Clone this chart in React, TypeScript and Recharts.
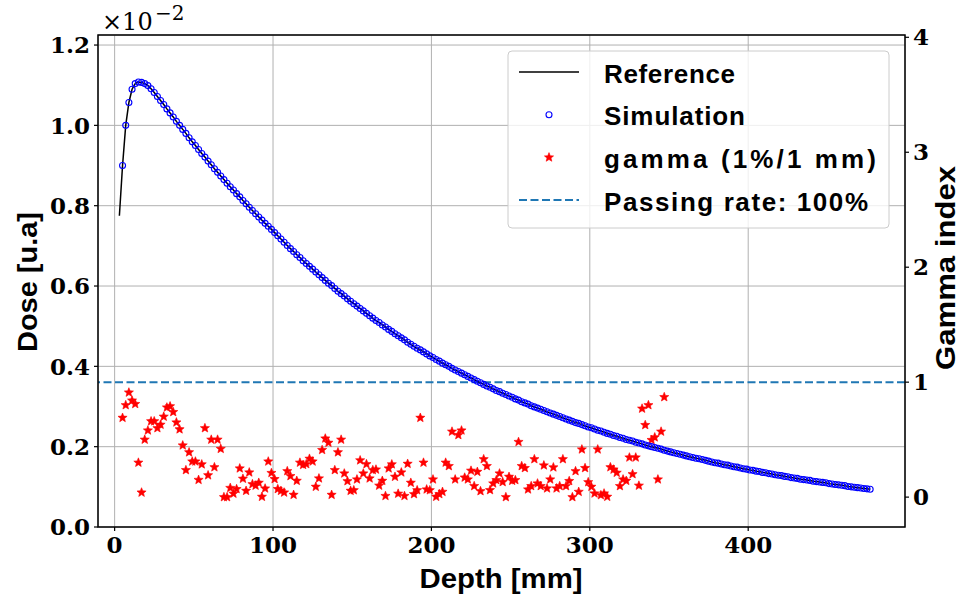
import { ComposedChart, Line, Scatter, XAxis, YAxis, CartesianGrid, ReferenceLine } from 'recharts'

// depth grid of the measured profile (mm)
const depthMm = [
  3, 5, 7, 9, 11, 13, 15, 17, 19, 21, 23, 25, 27, 29, 31, 33, 35, 37, 39, 41,
  43, 45, 47, 49, 51, 53, 55, 57, 59, 61, 63, 65, 67, 69, 71, 73, 75, 77, 79, 81,
  83, 85, 87, 89, 91, 93, 95, 97, 99, 101, 103, 105, 107, 109, 111, 113, 115, 117, 119, 121,
  123, 125, 127, 129, 131, 133, 135, 137, 139, 141, 143, 145, 147, 149, 151, 153, 155, 157, 159, 161,
  163, 165, 167, 169, 171, 173, 175, 177, 179, 181, 183, 185, 187, 189, 191, 193, 195, 197, 199, 201,
  203, 205, 207, 209, 211, 213, 215, 217, 219, 221, 223, 225, 227, 229, 231, 233, 235, 237, 239, 241,
  243, 245, 247, 249, 251, 253, 255, 257, 259, 261, 263, 265, 267, 269, 271, 273, 275, 277, 279, 281,
  283, 285, 287, 289, 291, 293, 295, 297, 299, 301, 303, 305, 307, 309, 311, 313, 315, 317, 319, 321,
  323, 325, 327, 329, 331, 333, 335, 337, 339, 341, 343, 345, 347, 349, 351, 353, 355, 357, 359, 361,
  363, 365, 367, 369, 371, 373, 375, 377, 379, 381, 383, 385, 387, 389, 391, 393, 395, 397, 399, 401,
  403, 405, 407, 409, 411, 413, 415, 417, 419, 421, 423, 425, 427, 429, 431, 433, 435, 437, 439, 441,
  443, 445, 447, 449, 451, 453, 455, 457, 459, 461, 463, 465, 467, 469, 471, 473, 475, 477,
]

// dose in units of 1e-2
const referenceDose = [
  0.775, 0.900, 1.000, 1.057, 1.090, 1.104, 1.108, 1.107, 1.104, 1.099, 1.091, 1.082, 1.072, 1.062, 1.052, 1.041, 1.031, 1.021, 1.010, 1.000,
  0.990, 0.980, 0.969, 0.959, 0.950, 0.940, 0.930, 0.921, 0.911, 0.902, 0.892, 0.883, 0.874, 0.865, 0.856, 0.847, 0.839, 0.830, 0.822, 0.813,
  0.805, 0.796, 0.788, 0.780, 0.772, 0.764, 0.756, 0.749, 0.741, 0.733, 0.725, 0.717, 0.709, 0.701, 0.693, 0.686, 0.678, 0.671, 0.663, 0.656,
  0.649, 0.642, 0.635, 0.628, 0.621, 0.614, 0.607, 0.601, 0.594, 0.587, 0.581, 0.575, 0.568, 0.562, 0.556, 0.550, 0.544, 0.538, 0.532, 0.526,
  0.520, 0.514, 0.509, 0.503, 0.498, 0.492, 0.487, 0.481, 0.476, 0.471, 0.466, 0.460, 0.455, 0.450, 0.445, 0.441, 0.436, 0.431, 0.426, 0.422,
  0.417, 0.413, 0.408, 0.404, 0.400, 0.395, 0.391, 0.387, 0.383, 0.379, 0.375, 0.371, 0.367, 0.363, 0.359, 0.355, 0.351, 0.348, 0.344, 0.340,
  0.337, 0.333, 0.330, 0.326, 0.323, 0.319, 0.316, 0.312, 0.309, 0.306, 0.302, 0.299, 0.296, 0.293, 0.290, 0.287, 0.284, 0.281, 0.278, 0.275,
  0.272, 0.269, 0.266, 0.263, 0.260, 0.258, 0.255, 0.252, 0.249, 0.247, 0.244, 0.241, 0.239, 0.236, 0.233, 0.231, 0.228, 0.226, 0.223, 0.221,
  0.218, 0.216, 0.214, 0.211, 0.209, 0.207, 0.204, 0.202, 0.200, 0.198, 0.196, 0.194, 0.191, 0.189, 0.187, 0.185, 0.183, 0.181, 0.179, 0.177,
  0.175, 0.173, 0.171, 0.170, 0.168, 0.166, 0.164, 0.162, 0.160, 0.159, 0.157, 0.155, 0.154, 0.152, 0.150, 0.149, 0.147, 0.145, 0.144, 0.142,
  0.141, 0.139, 0.138, 0.136, 0.135, 0.133, 0.132, 0.130, 0.129, 0.128, 0.126, 0.125, 0.123, 0.122, 0.121, 0.119, 0.118, 0.117, 0.116, 0.114,
  0.113, 0.112, 0.111, 0.110, 0.108, 0.107, 0.106, 0.105, 0.104, 0.103, 0.101, 0.100, 0.099, 0.098, 0.097, 0.096, 0.095, 0.094,
]

// gamma index (1%/1 mm), depths 5..347 mm
const gammaIndex = [
  0.69, 0.80, 0.91, 0.84, 0.81, 0.30, 0.04, 0.50, 0.58, 0.66, 0.66, 0.60, 0.63, 0.70, 0.78, 0.79, 0.74, 0.65, 0.59, 0.45,
  0.235, 0.39, 0.31, 0.31, 0.15, 0.285, 0.60, 0.19, 0.50, 0.26, 0.50, 0.42, 0.00, 0.00, 0.08, 0.03, 0.07, 0.25, 0.16, 0.055,
  0.215, 0.113, 0.10, 0.125, 0.003, 0.075, 0.31, 0.21, 0.157, 0.07, 0.055, 0.04, 0.226, 0.183, 0.02, 0.142, 0.30, 0.28, 0.287, 0.334,
  0.31, 0.09, 0.163, 0.41, 0.51, 0.473, 0.02, 0.235, 0.39, 0.50, 0.206, 0.139, 0.055, 0.06, 0.154, 0.32, 0.206, 0.287, 0.163, 0.235,
  0.24, 0.10, 0.142, 0.01, 0.25, 0.285, 0.177, 0.03, 0.215, 0.01, 0.29, 0.125, 0.026, 0.06, 0.69, 0.30, 0.067, 0.06, 0.154, 0.003,
  0.026, 0.046, 0.30, 0.27, 0.57, 0.154, 0.54, 0.58, 0.17, 0.154, 0.23, 0.096, 0.22, 0.052, 0.33, 0.27, 0.061, 0.119, 0.148, 0.206,
  0.131, 0.00, 0.177, 0.142, 0.148, 0.48, 0.27, 0.253, 0.067, 0.096, 0.33, 0.119, 0.096, 0.276, 0.076, 0.154, 0.259, 0.076, 0.096, 0.33,
  0.096, 0.14, 0.00, 0.226, 0.046, 0.415, 0.253, 0.13, 0.09, 0.032, 0.415, 0.017, 0.032, 0.003, 0.26, 0.24, 0.212, 0.096, 0.154, 0.142,
  0.345, 0.20, 0.345, 0.10, 0.77, 0.627, 0.80, 0.497, 0.52, 0.154, 0.57, 0.87,
]

const depthTicks = [0, 100, 200, 300, 400]
const doseTicks = [0, 0.2, 0.4, 0.6, 0.8, 1.0, 1.2]
const gammaTicks = [0, 1, 2, 3, 4]
const passingLevel = 1
const legendLabels = ['Reference', 'Simulation', 'gamma (1%/1 mm)', 'Passing rate: 100%']
const legendWidths = [131, 141, 272, 264]

const doseRows = depthMm.map((depth, i) => ({ depth, dose: referenceDose[i] }))
// simulation scored from 5 mm on
const simulationRows = doseRows.slice(1)
const gammaRows = gammaIndex.map((gamma, i) => ({ depth: depthMm[i + 1], gamma }))

const W = 962
const H = 601
const PLOT = { left: 98, right: 905, top: 35, bottom: 527 }

const serifTick = { fontFamily: '"DejaVu Serif", serif', fontSize: 23, fontWeight: 700, fill: '#000' }
const sansBold = '"Liberation Sans", Arial, sans-serif'

const OpenCircle = (props: any) => {
  const { cx, cy } = props
  if (cx == null || cy == null) return null
  return <circle cx={cx} cy={cy} r={3} fill="none" stroke="#0000ff" strokeWidth={1.1} />
}

function starPoints(cx: number, cy: number, R: number, r: number) {
  const pts: string[] = []
  for (let k = 0; k < 10; k++) {
    const a = (-90 + k * 36) * Math.PI / 180
    const rad = k % 2 === 0 ? R : r
    pts.push(`${(cx + rad * Math.cos(a)).toFixed(2)},${(cy + rad * Math.sin(a)).toFixed(2)}`)
  }
  return pts.join(' ')
}

const Star = (props: any) => {
  const { cx, cy } = props
  if (cx == null || cy == null) return null
  return <polygon points={starPoints(cx, cy, 4.8, 2.1)} fill="#ff0000" stroke="#ff0000" strokeWidth={0.6} />
}

export default function App() {
  const rowY = (i: number) => 72 + i * 42.7
  return (
    <div style={{ position: 'absolute', left: 0, top: 0, width: W, height: H, background: '#fff' }}>
      <ComposedChart
        width={W}
        height={H}
        margin={{ top: PLOT.top, right: 0, bottom: 0, left: 0 }}
      >
        <CartesianGrid yAxisId="left" stroke="#b0b0b0" strokeWidth={1} />
        <XAxis
          type="number"
          dataKey="depth"
          domain={[-10.5, 499]}
          ticks={depthTicks}
          allowDataOverflow
          height={H - PLOT.bottom}
          axisLine={false}
          tickLine={{ stroke: '#000', strokeWidth: 1.2 }}
          tickSize={4}
          tickMargin={6}
          tick={serifTick}
        />
        <YAxis
          yAxisId="left"
          type="number"
          domain={[0, 1.225]}
          ticks={doseTicks}
          allowDataOverflow
          width={PLOT.left}
          axisLine={false}
          tickLine={{ stroke: '#000', strokeWidth: 1.2 }}
          tickSize={4}
          tickMargin={4}
          tick={serifTick}
          tickFormatter={(v: number) => v.toFixed(1)}
        />
        <YAxis
          yAxisId="right"
          orientation="right"
          type="number"
          domain={[-0.26, 4.02]}
          ticks={gammaTicks}
          allowDataOverflow
          width={W - PLOT.right}
          axisLine={false}
          tickLine={{ stroke: '#000', strokeWidth: 1.2 }}
          tickSize={4}
          tickMargin={4}
          tick={serifTick}
        />
        <ReferenceLine
          yAxisId="right"
          y={passingLevel}
          stroke="#1f77b4"
          strokeWidth={2}
          strokeDasharray="8 3.5"
        />
        <Scatter
          yAxisId="right"
          data={gammaRows}
          dataKey="gamma"
          shape={Star}
          isAnimationActive={false}
        />
        <Line
          yAxisId="left"
          data={doseRows}
          dataKey="dose"
          type="linear"
          stroke="#000"
          strokeWidth={1.5}
          dot={false}
          activeDot={false}
          isAnimationActive={false}
        />
        <Scatter
          yAxisId="left"
          data={simulationRows}
          dataKey="dose"
          shape={OpenCircle}
          isAnimationActive={false}
        />
      </ComposedChart>

      <svg
        width={W}
        height={H}
        style={{ position: 'absolute', left: 0, top: 0, pointerEvents: 'none' }}
      >
        <rect
          x={PLOT.left}
          y={PLOT.top}
          width={PLOT.right - PLOT.left}
          height={PLOT.bottom - PLOT.top}
          fill="none"
          stroke="#000"
          strokeWidth={1.5}
        />
        <text x={102} y={30} fontFamily='"DejaVu Serif", serif' fontSize={24}>×10</text>
        <text x={155} y={20} fontFamily='"DejaVu Serif", serif' fontSize={20}>−2</text>

        <text
          x={501}
          y={588}
          textAnchor="middle"
          fontFamily={sansBold}
          fontWeight={700}
          fontSize={27}
          textLength={163}
          lengthAdjust="spacingAndGlyphs"
        >
          Depth [mm]
        </text>
        <text
          transform="translate(37 282) rotate(-90)"
          textAnchor="middle"
          fontFamily={sansBold}
          fontWeight={700}
          fontSize={27}
          textLength={140}
          lengthAdjust="spacingAndGlyphs"
        >
          Dose [u.a]
        </text>
        <text
          transform="translate(955 268) rotate(-90)"
          textAnchor="middle"
          fontFamily={sansBold}
          fontWeight={700}
          fontSize={27}
          textLength={204}
          lengthAdjust="spacingAndGlyphs"
        >
          Gamma index
        </text>

        <rect x={508} y={51} width={381} height={177} rx={4} fill="#fff" fillOpacity={0.8} stroke="#cccccc" strokeWidth={1} />
        <line x1={519} x2={579} y1={rowY(0)} y2={rowY(0)} stroke="#000" strokeWidth={1.5} />
        <circle cx={549} cy={rowY(1)} r={3} fill="none" stroke="#0000ff" strokeWidth={1.1} />
        <polygon points={starPoints(549, rowY(2), 4.8, 2.1)} fill="#ff0000" stroke="#ff0000" strokeWidth={0.6} />
        <line x1={519} x2={579} y1={rowY(3)} y2={rowY(3)} stroke="#1f77b4" strokeWidth={2} strokeDasharray="8 3.5" />
        {legendLabels.map((label, i) => (
          <text
            key={label}
            x={604}
            y={rowY(i) + 10.5}
            fontFamily={sansBold}
            fontWeight={700}
            fontSize={26}
            textLength={legendWidths[i]}
            lengthAdjust="spacing"
          >
            {label}
          </text>
        ))}
      </svg>
    </div>
  )
}
